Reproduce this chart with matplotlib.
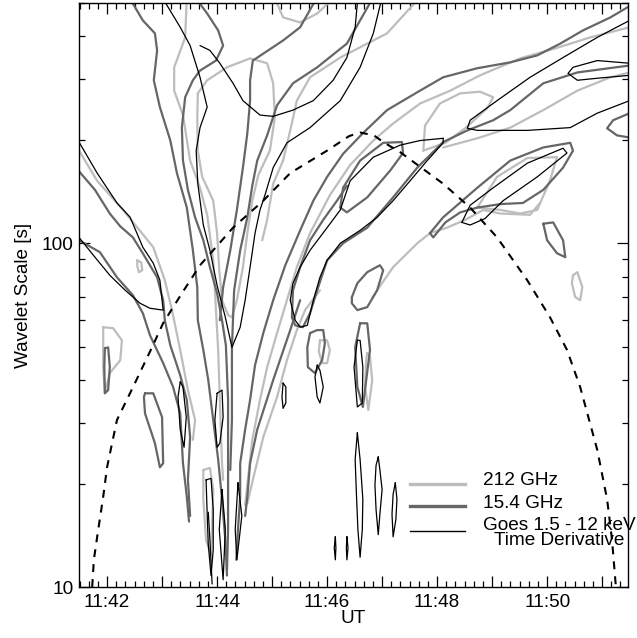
import matplotlib

matplotlib.use("Agg")
import matplotlib.pyplot as plt
from matplotlib.legend_handler import HandlerLine2D
from matplotlib.lines import Line2D
from matplotlib.ticker import FuncFormatter, LogLocator, MultipleLocator, NullFormatter

plt.rcParams["font.family"] = ["Liberation Sans", "DejaVu Sans"]
plt.rcParams["font.size"] = 13.7

# time in decimal minutes after 11:00 UT, wavelet scale in seconds
coi = [(41.73, 10.0), (41.76, 12.0), (41.84, 14.7), (41.93, 18.3), (42.0, 22.3), (42.18, 30.6),
       (42.47, 38.1), (42.82, 49.9), (43.02, 58.6), (43.36, 71.5), (43.69, 86.3), (44.29, 111),
       (44.84, 133), (45.33, 160), (46.0, 186), (46.4, 205), (46.6, 210), (46.85, 206),
       (47.02, 197), (47.33, 184), (48.11, 149), (48.6, 127), (49.09, 104), (49.64, 78),
       (50.05, 61), (50.36, 49), (50.6, 38.2), (50.91, 25.1), (51.09, 18), (51.18, 13.7), (51.25, 10)]

# 212 GHz contours
g212_a = [(41.4, 195), (41.49, 186), (41.82, 152), (42.29, 125), (42.84, 97.4), (43.05, 78.1),
          (43.18, 63.9), (43.33, 48.9), (43.47, 37.4), (43.60, 30.6), (43.56, 26.8)]
g212_b = [(43.45, 520), (43.42, 397), (43.22, 325), (43.22, 278), (43.38, 236), (43.51, 174),
          (43.69, 145), (43.82, 121), (43.93, 89.2), (43.98, 63.9), (44.02, 48.9), (44.05, 35.0),
          (44.09, 22.9), (44.11, 20.5)]
g212_c = [(43.65, 273), (43.64, 232), (43.65, 186), (43.73, 156), (43.93, 133), (44.0, 107),
          (44.04, 83.5), (44.09, 68.3), (44.20, 61.8), (44.27, 60.9), (44.36, 68.3), (44.47, 85.2),
          (44.55, 107), (44.64, 133), (44.75, 158), (44.96, 186), (45.05, 232), (45.02, 292),
          (44.91, 334), (44.60, 345), (44.18, 325), (43.82, 298), (43.65, 273)]
g212_d = [(47.69, 520), (47.09, 408), (46.24, 347), (45.69, 304), (45.45, 260), (45.33, 213),
          (45.20, 174), (45.02, 149), (44.91, 117), (44.82, 102)]
g212_e = [(51.5, 425), (50.78, 397), (50.15, 369), (49.51, 345), (48.78, 308), (48.24, 278),
          (47.69, 255), (47.20, 223), (46.84, 199), (46.42, 169), (46.05, 138), (45.69, 107),
          (45.45, 85.2), (45.27, 68.3), (45.09, 54.8), (44.91, 43.6), (44.78, 35.0), (44.64, 26.8),
          (44.56, 20.5), (44.51, 17.3)]
g212_f = [(45.87, 73.0), (45.60, 63.9), (45.45, 55.9), (45.27, 45.7), (45.09, 35.7), (44.84, 27.3),
          (44.65, 20.5), (44.55, 17.5)]
g212_g = [(45.07, 520), (45.09, 499), (45.20, 454), (45.51, 439), (45.82, 466), (46.02, 499), (46.05, 520)]
g212_i = [(47.75, 186), (47.78, 220), (48.05, 255), (48.42, 273), (48.78, 276), (49.02, 266),
          (48.91, 247), (48.51, 216), (48.15, 196), (47.75, 186)]
g212_j = [(48.11, 190), (48.73, 202), (49.33, 217), (49.93, 244), (50.55, 278), (51.15, 304), (51.5, 314)]
g212_k = [(49.87, 131), (49.69, 121), (49.15, 122), (48.84, 125), (48.51, 117), (48.18, 111),
          (47.87, 107), (47.64, 100), (47.20, 85.2), (46.91, 73.0), (46.82, 69.3)]
g212_l = [(48.73, 127), (49.09, 156), (49.64, 177), (50.18, 178), (50.05, 152), (49.82, 125),
          (49.51, 122), (49.15, 125), (48.73, 127)]
g212_m = [(50.47, 80.7), (50.55, 82.4), (50.64, 74.5), (50.60, 68.3), (50.51, 69.7), (50.45, 76.5), (50.47, 80.7)]
g212_n = [(45.87, 52.2), (46.0, 52.2), (46.05, 48.9), (46.0, 44.8), (45.91, 44.8), (45.85, 48.4), (45.87, 52.2)]
g212_o = [(46.73, 47.9), (46.78, 46.6), (46.82, 40.0), (46.75, 32.7), (46.69, 38.2), (46.71, 45.7), (46.73, 47.9)]
g212_p = [(41.93, 57.0), (42.11, 56.6), (42.27, 52.2), (42.24, 45.7), (42.05, 41.9), (41.96, 36.6),
          (41.93, 43.6), (41.93, 54.8), (41.93, 57.0)]
g212_q = [(42.55, 89.2), (42.62, 88.0), (42.64, 83.5), (42.58, 82.4), (42.55, 85.8), (42.55, 89.2)]
g212_r = [(43.75, 21.9), (43.87, 22.2), (43.93, 19.2), (43.91, 14.7), (43.89, 12.4), (43.80, 13.7),
          (43.75, 18.0), (43.75, 21.9)]

# 15.4 GHz contours
g154_a = [(42.40, 520), (42.65, 445), (42.87, 408), (42.91, 364), (42.85, 298), (42.96, 249),
          (43.15, 199), (43.27, 160), (43.45, 127), (43.56, 95.4), (43.64, 74.5), (43.65, 59.7),
          (43.75, 48.9), (43.84, 40.0), (43.93, 30.6), (44.02, 23.5), (44.09, 18.0), (44.15, 13.7),
          (44.18, 10.8)]
g154_b = [(43.60, 520), (43.82, 466), (44.02, 416), (44.11, 376), (43.98, 340), (43.69, 318),
          (43.56, 298), (43.42, 266), (43.36, 217), (43.38, 174), (43.47, 143), (43.60, 119),
          (43.75, 102), (43.87, 85.2), (44.0, 71.6), (44.09, 59.7), (44.16, 50.5), (44.20, 35.0),
          (44.20, 22.9), (44.20, 14.7), (44.18, 11.2)]
g154_c = [(41.4, 172), (41.49, 162), (41.78, 143), (42.05, 122), (42.24, 112), (42.47, 104),
          (42.65, 93.5), (42.91, 79.6), (43.02, 68.3), (43.05, 59.7), (43.15, 50.5), (43.33, 41.3),
          (43.45, 35.0), (43.51, 27.3), (43.47, 20.5), (43.51, 16.1)]
g154_d = [(41.4, 106), (41.49, 102), (41.87, 94.2), (42.18, 79.6), (42.47, 70.6), (42.65, 62.6),
          (42.78, 54.0), (43.02, 44.8), (43.20, 38.2), (43.33, 32.0), (43.38, 22.9), (43.45, 18.3),
          (43.49, 15.5)]
g154_e = [(42.69, 36.6), (42.84, 36.6), (43.0, 31.2), (43.02, 22.9), (42.96, 22.3), (42.87, 26.2),
          (42.69, 32.0), (42.67, 35.7), (42.69, 36.6)]
g154_f = [(41.96, 49.5), (42.02, 49.8), (42.05, 43.6), (42.02, 37.4), (41.96, 36.6), (41.95, 43.6), (41.96, 49.5)]
g154_g = [(46.84, 520), (46.36, 381), (45.82, 325), (45.38, 292), (45.09, 252), (44.91, 206),
          (44.73, 174), (44.64, 147), (44.55, 119), (44.42, 95.4), (44.31, 73.0), (44.27, 49.8),
          (44.27, 30.6), (44.24, 21.9)]
g154_h = [(45.82, 520), (45.51, 425), (45.20, 389), (44.65, 340), (44.60, 298), (44.60, 260),
          (44.55, 209), (44.47, 166), (44.36, 125), (44.24, 95.4), (44.11, 74.5), (44.05, 59.7)]
g154_i = [(51.5, 490), (51.15, 454), (50.65, 416), (50.24, 381), (49.82, 352), (49.33, 336),
          (48.73, 323), (48.11, 304), (47.69, 278), (47.09, 244), (46.65, 209), (46.29, 182),
          (46.0, 156), (45.75, 133), (45.51, 109), (45.24, 86.3), (45.02, 68.3), (44.84, 54.8),
          (44.69, 44.2), (44.60, 35.0), (44.51, 28.7), (44.42, 22.9), (44.42, 18.3), (44.38, 14.7),
          (44.35, 12.0)]
g154_j = [(51.5, 329), (50.55, 314), (49.93, 292), (49.33, 244), (49.02, 228), (48.55, 213),
          (48.11, 197), (47.64, 166), (47.20, 136), (46.73, 111), (46.29, 100), (46.0, 89.2),
          (45.82, 73.0), (45.69, 62.6), (45.56, 57.0), (45.42, 57.7), (45.36, 60.9), (45.38, 73.0),
          (45.51, 85.2), (45.69, 102), (45.93, 117), (46.18, 133), (46.36, 147)]
g154_k = [(45.51, 68.3), (45.33, 55.9), (45.02, 40.0), (44.73, 28.7), (44.60, 22.9), (44.55, 18.3), (44.51, 16.1)]
g154_l = [(46.24, 127), (46.29, 145), (46.60, 174), (47.02, 196), (47.36, 197), (47.38, 183),
          (47.15, 163), (46.73, 136), (46.36, 123), (46.24, 127)]
g154_m = [(47.87, 107), (48.11, 119), (48.73, 145), (49.33, 174), (49.93, 190), (50.42, 196),
          (50.47, 186), (50.29, 166), (49.93, 143), (49.56, 131), (49.15, 130), (48.73, 127),
          (48.42, 123), (48.15, 115), (47.93, 104), (47.87, 107)]
g154_n = [(46.45, 69.7), (46.55, 76.5), (46.73, 82.4), (46.96, 86.3), (47.02, 83.5), (46.91, 73.0),
          (46.73, 65.2), (46.55, 63.9), (46.45, 66.9), (46.45, 69.7)]
g154_o = [(45.69, 54.8), (45.82, 55.9), (45.93, 55.9), (45.96, 51.2), (45.91, 45.7), (45.78, 41.9),
          (45.65, 43.6), (45.64, 49.8), (45.69, 54.8)]
g154_p = [(46.60, 58.5), (46.73, 58.5), (46.78, 48.9), (46.65, 33.4), (46.55, 38.2), (46.51, 49.8), (46.60, 58.5)]
g154_q = [(49.93, 114), (50.11, 115), (50.29, 102), (50.33, 91.1), (50.18, 93.5), (50.0, 102), (49.93, 114)]
g154_r = [(51.5, 239), (51.20, 228), (51.09, 216), (51.27, 206), (51.5, 203)]

# GOES 1.5-12 keV time derivative contours
goes_a = [(41.4, 210), (41.49, 197), (41.82, 160), (42.18, 131), (42.42, 119), (42.65, 97.4),
          (42.84, 87.5), (42.96, 78.1), (43.02, 63.9), (42.78, 64.7), (42.60, 66.9), (42.33, 73.0),
          (42.05, 80.7), (41.78, 91.1), (41.49, 104), (41.4, 108)]
goes_b = [(43.0, 520), (43.33, 425), (43.51, 376), (43.69, 304), (43.82, 249), (43.69, 217),
          (43.62, 186), (43.65, 149), (43.75, 113), (43.87, 95.4), (44.0, 75.5), (44.15, 60.9),
          (44.27, 49.8), (44.42, 57.0), (44.51, 68.3), (44.60, 85.2), (44.69, 107), (44.78, 125),
          (44.87, 138), (45.02, 166), (45.27, 196), (45.69, 217), (46.24, 260), (46.60, 325),
          (46.84, 408), (47.0, 520)]
goes_c = [(43.69, 376), (43.87, 364), (44.05, 334), (44.29, 292), (44.47, 260), (44.78, 236),
          (45.02, 234), (45.38, 244), (45.75, 260), (46.11, 298), (46.36, 347), (46.51, 425), (46.56, 520)]
goes_d = [(48.11, 202), (47.69, 199), (47.33, 193), (46.84, 178), (46.42, 152), (46.24, 125),
          (46.0, 111), (45.69, 95.4), (45.51, 85.2), (45.38, 76.5), (45.33, 68.3), (45.42, 59.7),
          (45.51, 57.0), (45.64, 57.7), (45.75, 68.3), (45.87, 79.6), (46.0, 89.2), (46.24, 100),
          (46.60, 109), (46.91, 119), (47.20, 133), (47.51, 152), (47.82, 174), (48.11, 196), (48.11, 202)]
goes_e = [(51.5, 445), (50.91, 397), (50.29, 347), (49.69, 304), (49.09, 260), (48.60, 228),
          (48.55, 216), (48.73, 213), (49.64, 213), (50.42, 217), (50.91, 239), (51.5, 260)]
goes_f = [(51.5, 334), (50.91, 340), (50.47, 325), (50.38, 312), (50.55, 298), (50.91, 302), (51.5, 308)]
goes_g = [(48.45, 115), (48.60, 129), (49.02, 145), (49.64, 171), (50.29, 189), (50.36, 183),
          (49.82, 156), (49.20, 133), (48.87, 118), (48.60, 113), (48.45, 115)]
goes_h = [(43.33, 39.5), (43.38, 38.2), (43.44, 31.2), (43.40, 25.5), (43.33, 28.7), (43.29, 35.7), (43.33, 39.5)]
goes_i = [(44.0, 36.6), (44.09, 37.4), (44.11, 31.2), (44.05, 26.2), (44.0, 25.5), (43.96, 30.6), (44.0, 36.6)]
goes_j = [(45.20, 39.2), (45.25, 38.2), (45.25, 34.3), (45.20, 33.1), (45.18, 35.7), (45.20, 39.2)]
goes_k = [(45.82, 44.2), (45.87, 42.7), (45.93, 38.2), (45.87, 34.3), (45.82, 35.7), (45.78, 40.8), (45.82, 44.2)]
goes_l = [(46.55, 52.2), (46.60, 52.2), (46.65, 43.6), (46.64, 34.3), (46.55, 33.4), (46.49, 43.6), (46.55, 52.2)]
goes_m = [(43.80, 20.5), (43.89, 20.7), (43.93, 16.8), (43.93, 12.8), (43.89, 10.8), (43.84, 13.3),
          (43.82, 16.3), (43.80, 20.5)]
goes_n = [(43.84, 16.5), (43.87, 13.7), (43.91, 10.2)]
goes_o = [(44.09, 19.2), (44.15, 14.7), (44.11, 10.5), (44.04, 14.7), (44.09, 19.2)]
goes_p = [(44.38, 20.1), (44.45, 16.1), (44.36, 12.0), (44.33, 14.7), (44.38, 20.1)]
goes_q = [(46.15, 14.0), (46.16, 13.0), (46.15, 12.0), (46.13, 13.0), (46.15, 14.0)]
goes_r = [(46.36, 14.0), (46.38, 13.0), (46.36, 12.0), (46.35, 13.0), (46.36, 14.0)]
goes_s = [(46.55, 28.1), (46.60, 23.5), (46.65, 18.0), (46.64, 14.7), (46.60, 12.2), (46.56, 14.7),
          (46.53, 19.2), (46.51, 23.5), (46.55, 28.1)]
goes_t = [(46.93, 23.9), (46.96, 21.9), (47.0, 19.2), (46.96, 16.3), (46.93, 14.2), (46.89, 16.8),
          (46.87, 19.8), (46.89, 22.6), (46.93, 23.9)]
goes_u = [(47.24, 20.1), (47.27, 18.0), (47.25, 15.7), (47.20, 14.0), (47.18, 16.3), (47.20, 18.6), (47.24, 20.1)]

ghz212 = [g212_a, g212_b, g212_c, g212_d, g212_e, g212_f, g212_g, g212_i, g212_j, g212_k,
          g212_l, g212_m, g212_n, g212_o, g212_p, g212_q, g212_r]
ghz154 = [g154_a, g154_b, g154_c, g154_d, g154_e, g154_f, g154_g, g154_h, g154_i, g154_j,
          g154_k, g154_l, g154_m, g154_n, g154_o, g154_p, g154_q, g154_r]
goes = [goes_a, goes_b, goes_c, goes_d, goes_e, goes_f, goes_g, goes_h, goes_i, goes_j, goes_k,
        goes_l, goes_m, goes_n, goes_o, goes_p, goes_q, goes_r, goes_s, goes_t, goes_u]

series = [
    ("212 GHz", ghz212, "#bdbdbd", 1.6, 2.4),
    ("15.4 GHz", ghz154, "#666666", 1.6, 2.4),
    ("Goes 1.5 - 12 keV\nTime Derivative", goes, "black", 0.9, 1.0),
]


class LowLine(HandlerLine2D):
    # legend line sits a little below the text centre, as in the original
    def __init__(self, shift, **kw):
        super().__init__(**kw)
        self.shift = shift

    def create_artists(self, legend, orig_handle, xdescent, ydescent, width, height, fontsize, trans):
        arts = super().create_artists(legend, orig_handle, xdescent, ydescent, width, height,
                                      fontsize, trans)
        for a in arts:
            a.set_ydata([y - self.shift * fontsize for y in a.get_ydata()])
        return arts


fig = plt.figure(figsize=(6.37, 6.38), dpi=100)
ax = fig.add_axes([79 / 637, 1 - 587 / 638, 549 / 637, 584 / 638])

handles = []
for label, contours, color, lw, leg_lw in series:
    for c in contours:
        t, s = zip(*c)
        ax.plot(t, s, color=color, lw=lw, solid_joinstyle="round", solid_capstyle="round")
    handles.append(Line2D([], [], color=color, lw=leg_lw, label=label))

t, s = zip(*coi)
ax.plot(t, s, color="black", lw=1.5, ls=(0, (3.8, 3.4)))

ax.set_yscale("log")
ax.set_xlim(41.49, 51.47)
ax.set_ylim(10, 500)

ax.xaxis.set_major_locator(MultipleLocator(1))
ax.xaxis.set_minor_locator(MultipleLocator(1 / 6))
ax.xaxis.set_major_formatter(
    FuncFormatter(lambda v, p: f"11:{int(round(v)):02d}" if round(v) % 2 == 0 else "")
)
ax.yaxis.set_major_locator(LogLocator(base=10))
ax.yaxis.set_minor_locator(LogLocator(base=10, subs=range(2, 10)))
ax.yaxis.set_major_formatter(FuncFormatter(lambda v, p: f"{v:g}"))
ax.yaxis.set_minor_formatter(NullFormatter())

ax.tick_params(which="both", direction="in", top=True, right=True, width=0.9)
ax.tick_params(which="major", length=8)
ax.tick_params(which="minor", length=4.5)
ax.tick_params(axis="x", pad=5)
ax.tick_params(axis="y", pad=4)
for sp in ax.spines.values():
    sp.set_linewidth(1.0)

ax.set_xlabel("UT", labelpad=-1)
ax.set_ylabel("Wavelet Scale [s]", labelpad=7)

leg = ax.legend(handles=handles, loc="upper left", bbox_to_anchor=(0.603, 0.197),
                frameon=False, borderpad=0, borderaxespad=0, handlelength=2.9,
                handletextpad=0.95, labelspacing=0.28, fontsize=13.7,
                handler_map={handles[0]: LowLine(0.26), handles[1]: LowLine(0.26),
                             handles[2]: LowLine(-0.1)})
for txt in leg.get_texts():
    txt.set_multialignment("center")
    txt.set_linespacing(0.85)

fig.savefig("out.png", dpi=100)
